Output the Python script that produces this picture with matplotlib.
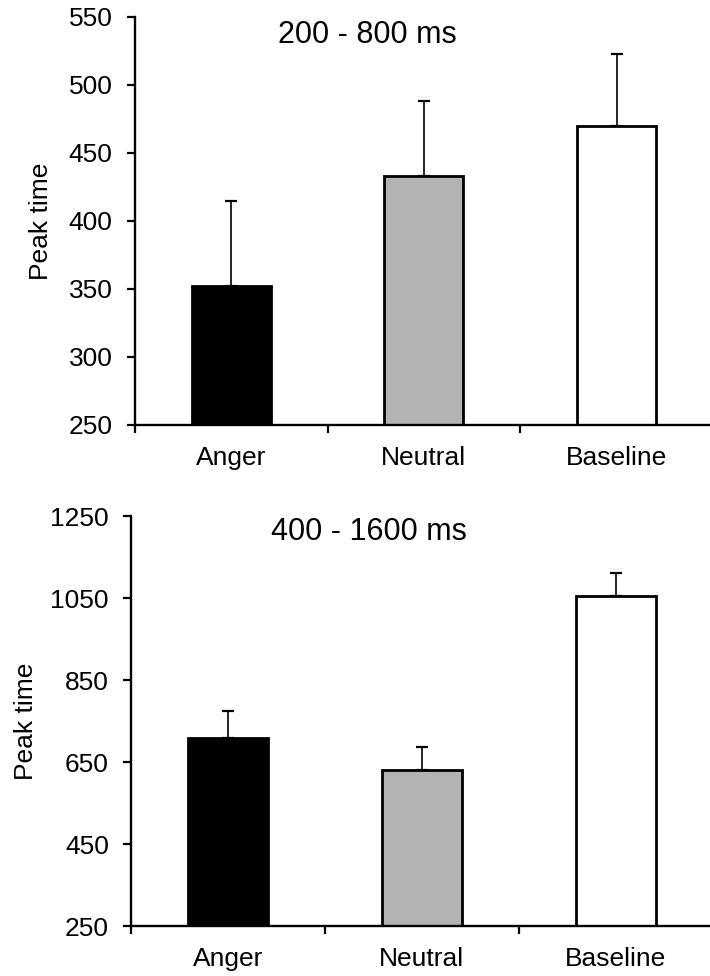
import numpy as np
import matplotlib
matplotlib.use("Agg")
import matplotlib.pyplot as plt

categories = ["Anger", "Neutral", "Baseline"]
colors = ["#000000", "#b3b3b3", "#ffffff"]

# 200 - 800 ms window
early_means = [352, 433, 470]
early_err = [63, 55, 53]

# 400 - 1600 ms window
late_means = [709, 630, 1056]
late_err = [66, 57, 55]

plt.rcParams["font.family"] = ["Liberation Sans", "DejaVu Sans"]

fig = plt.figure(figsize=(7.1, 9.76), dpi=100)
ax1 = fig.add_axes([0.190, 0.5646, 0.814, 0.418])
ax2 = fig.add_axes([0.1845, 0.0512, 0.8195, 0.420])


def draw_panel(ax, means, errs, ylim, yticks, title, title_pos, label_x):
    x = np.arange(len(categories))
    ax.bar(x, means, width=0.41, color=colors, edgecolor="black",
           linewidth=2.0, zorder=2)
    ax.errorbar(x, means, yerr=[np.zeros(len(errs)), errs], fmt="none",
                ecolor="black", elinewidth=1.2, capsize=4.5, capthick=1.6,
                zorder=1)
    ax.set_xlim(-0.5, 2.5)
    ax.set_ylim(*ylim)
    ax.set_yticks(yticks)
    ax.set_yticklabels([str(v) for v in yticks])
    # ticks between categories, labels at centers
    ax.set_xticks([-0.5, 0.5, 1.5, 2.5])
    ax.set_xticklabels([])
    ax.set_xticks(x, minor=True)
    ax.set_xticklabels(categories, minor=True)
    ax.tick_params(axis="x", which="major", direction="out", length=6,
                   width=1.6)
    ax.tick_params(axis="x", which="minor", length=0, pad=15, labelsize=19)
    ax.tick_params(axis="y", direction="out", length=6, width=1.6, pad=10,
                   labelsize=19)
    for s in ["top", "right"]:
        ax.spines[s].set_visible(False)
    for s in ["left", "bottom"]:
        ax.spines[s].set_linewidth(1.7)
    ax.set_ylabel("Peak time", fontsize=19)
    ax.yaxis.set_label_coords(label_x, 0.5)
    ax.text(title_pos[0], title_pos[1], title, transform=ax.transAxes,
            ha="center", va="center", fontsize=22)


draw_panel(ax1, early_means, early_err, (250, 550),
           [250, 300, 350, 400, 450, 500, 550], "200 - 800 ms",
           (0.403, 0.956), -0.142)
draw_panel(ax2, late_means, late_err, (250, 1250),
           [250, 450, 650, 850, 1050, 1250], "400 - 1600 ms",
           (0.409, 0.961), -0.160)

fig.savefig("out.png", dpi=100)
